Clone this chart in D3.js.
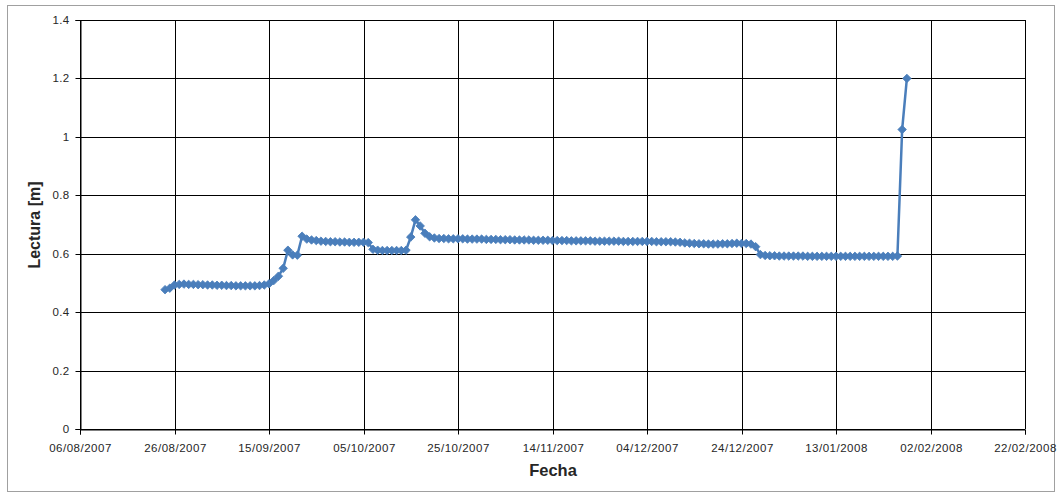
<!DOCTYPE html>
<html>
<head>
<meta charset="utf-8">
<script src="https://cdn.jsdelivr.net/npm/d3@7"></script>
<style>
  html, body { margin: 0; padding: 0; background: #fff; }
  svg { display: block; }
  text { font-family: "Liberation Sans", Arial, sans-serif; fill: #262626; }
</style>
</head>
<body>
<svg id="chart" width="1061" height="495"></svg>
<script>
// Daily gauge readings, first reading on 24/08/2007
const firstDate = "24/08/2007";
const readings = [
  0.477, 0.482, 0.493, 0.495, 0.496, 0.495, 0.495, 0.494, 0.494, 0.493,
  0.493, 0.492, 0.492, 0.491, 0.491, 0.490, 0.490, 0.490, 0.490, 0.490,
  0.491, 0.493, 0.497, 0.508, 0.523, 0.550, 0.612, 0.596, 0.595, 0.660,
  0.650, 0.647, 0.645, 0.643, 0.642, 0.641, 0.641, 0.640, 0.640, 0.639,
  0.639, 0.639, 0.639, 0.638, 0.615, 0.612, 0.611, 0.611, 0.611, 0.611,
  0.611, 0.612, 0.657, 0.716, 0.695, 0.670, 0.658, 0.654, 0.652, 0.652,
  0.651, 0.651, 0.651, 0.651, 0.650, 0.650, 0.650, 0.650, 0.649, 0.649,
  0.649, 0.648, 0.648, 0.648, 0.647, 0.647, 0.647, 0.647, 0.646, 0.646,
  0.646, 0.646, 0.645, 0.645, 0.645, 0.645, 0.644, 0.644, 0.644, 0.644,
  0.644, 0.643, 0.643, 0.643, 0.643, 0.643, 0.643, 0.642, 0.642, 0.642,
  0.642, 0.642, 0.642, 0.642, 0.641, 0.641, 0.641, 0.641, 0.640, 0.639,
  0.637, 0.636, 0.635, 0.634, 0.634, 0.633, 0.633, 0.633, 0.634, 0.634,
  0.635, 0.636, 0.635, 0.635, 0.633, 0.624, 0.597, 0.594, 0.593, 0.593,
  0.592, 0.592, 0.592, 0.592, 0.592, 0.592, 0.591, 0.591, 0.591, 0.591,
  0.591, 0.591, 0.591, 0.591, 0.591, 0.591, 0.591, 0.591, 0.591, 0.591,
  0.591, 0.591, 0.591, 0.591, 0.591, 0.592, 1.025, 1.200
];
const xTickLabels = ["06/08/2007", "26/08/2007", "15/09/2007", "05/10/2007",
  "25/10/2007", "14/11/2007", "04/12/2007", "24/12/2007", "13/01/2008",
  "02/02/2008", "22/02/2008"];
const yTickValues = [0, 0.2, 0.4, 0.6, 0.8, 1, 1.2, 1.4];
const xTitle = "Fecha";
const yTitle = "Lectura [m]";

const parse = d3.utcParse("%d/%m/%Y");
const fmt = d3.utcFormat("%d/%m/%Y");
const start = parse(firstDate);
const data = readings.map((v, i) => ({ date: d3.utcDay.offset(start, i), value: v }));
const xTicks = xTickLabels.map(parse);

const svg = d3.select("#chart");
const plotLeft = 80, plotRight = 1025, plotTop = 20, plotBottom = 429;

const x = d3.scaleUtc()
  .domain([xTicks[0], xTicks[xTicks.length - 1]])
  .range([plotLeft, plotRight]);
const y = d3.scaleLinear().domain([0, 1.4]).range([plotBottom, plotTop]);

// outer chart frame
svg.append("rect")
  .attr("x", 7.5).attr("y", 5.5).attr("width", 1047).attr("height", 486)
  .attr("fill", "#fff").attr("stroke", "#a0a0a0").attr("stroke-width", 1);

// gridlines
svg.append("g").selectAll("line").data(yTickValues).join("line")
  .attr("x1", plotLeft).attr("x2", plotRight)
  .attr("y1", d => Math.round(y(d)) + 0.5).attr("y2", d => Math.round(y(d)) + 0.5)
  .attr("stroke", "#000").attr("stroke-width", 1);
svg.append("g").selectAll("line").data(xTicks).join("line")
  .attr("x1", d => Math.round(x(d)) + 0.5).attr("x2", d => Math.round(x(d)) + 0.5)
  .attr("y1", plotTop).attr("y2", plotBottom)
  .attr("stroke", "#000").attr("stroke-width", 1);

// axes
const yAxis = d3.axisLeft(y).tickValues(yTickValues)
  .tickFormat(d => String(+d.toFixed(1))).tickSize(5).tickPadding(6);
const gy = svg.append("g").attr("transform", `translate(${plotLeft + 0.5},0)`).call(yAxis);
gy.select(".domain").attr("stroke", "#000");
gy.selectAll(".tick").attr("transform", d => `translate(0,${Math.round(y(d)) + 0.5})`);
gy.selectAll(".tick line").attr("stroke", "#000");
gy.selectAll(".tick text").attr("font-size", "11.5px").attr("fill", "#333")
  .attr("font-family", "'Liberation Sans', Arial, sans-serif").attr("letter-spacing", "0.3px");

const xAxis = d3.axisBottom(x).tickValues(xTicks).tickFormat(fmt).tickSize(5).tickPadding(9);
const gx = svg.append("g").attr("transform", `translate(0,${plotBottom + 0.5})`).call(xAxis);
gx.select(".domain").attr("stroke", "#000");
gx.selectAll(".tick").attr("transform", d => `translate(${Math.round(x(d)) + 0.5},0)`);
gx.selectAll(".tick line").attr("stroke", "#000");
gx.selectAll(".tick text").attr("font-size", "11.5px").attr("fill", "#333")
  .attr("font-family", "'Liberation Sans', Arial, sans-serif").attr("letter-spacing", "0.5px");

// series line and diamond markers
const line = d3.line().x(d => x(d.date)).y(d => y(d.value));
svg.append("path").datum(data)
  .attr("d", line).attr("fill", "none")
  .attr("stroke", "#4a7ebb").attr("stroke-width", 2.5).attr("stroke-linejoin", "round");

const diamond = d3.symbol().type(d3.symbolSquare).size(36);
svg.append("g").selectAll("path").data(data).join("path")
  .attr("transform", d => `translate(${x(d.date)},${y(d.value)}) rotate(45)`)
  .attr("d", diamond).attr("fill", "#4a7ebb").attr("stroke", "#4a7ebb").attr("stroke-width", 0.8);

// axis titles
svg.append("text").attr("x", 553).attr("y", 476).attr("text-anchor", "middle")
  .attr("font-size", "16.5px").attr("font-weight", "bold").text(xTitle);
svg.append("text").attr("transform", "translate(40,225) rotate(-90)")
  .attr("text-anchor", "middle").attr("font-size", "16px").attr("font-weight", "bold").text(yTitle);
</script>
</body>
</html>
